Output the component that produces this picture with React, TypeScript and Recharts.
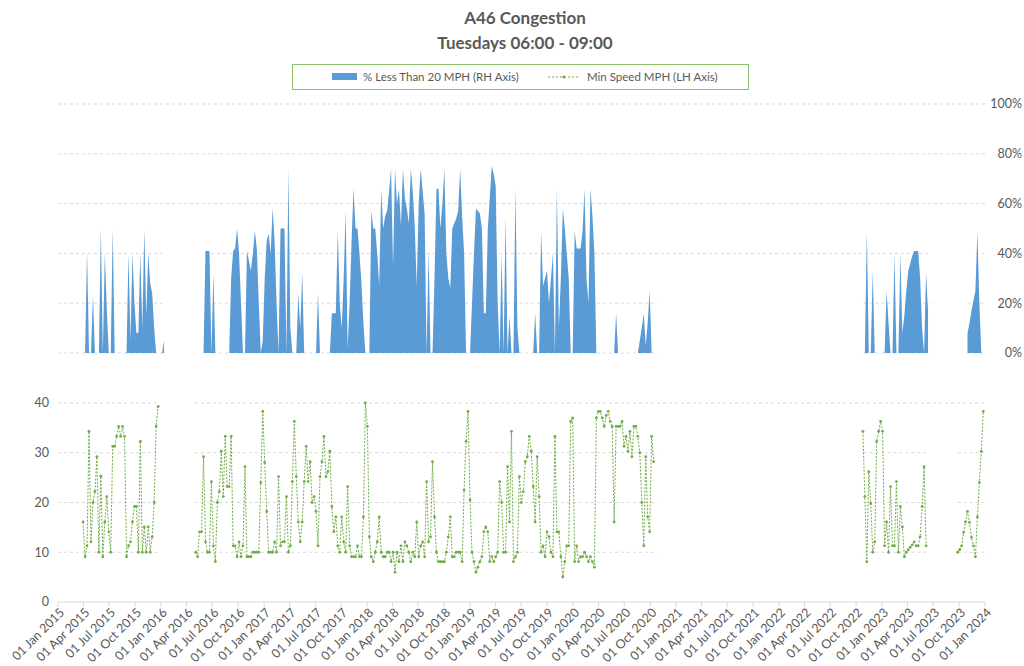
import React from 'react';
import { ComposedChart, Area, Line, XAxis, YAxis, ReferenceLine } from 'recharts';

// ---------- DATA ----------
// Weekly Tuesday observations. Each segment: first Tuesday + consecutive weekly values.
const pctSegments = [
  { start: '2015-04-07', values: [0, 41, 0, 0, 23, 0, 0, 0, 50, 0, 40, 18, 0, 0, 50, 0, 0, 0, 0, 0, 0, 0, 40, 5, 40, 20, 8, 8, 40, 10, 50, 15, 40, 28, 24, 10, 0, 0, 0, 0, 5] },
  { start: '2016-05-31', values: [
    0, 41, 41, 41, 0, 32, 0, 0, 0, 0,
    0, 0, 0, 0, 30, 41, 42, 50, 40, 20,
    0, 0, 41, 37, 33, 40, 49, 42, 20, 0,
    5, 30, 45, 48, 40, 58, 45, 20, 0, 50,
    50, 50, 0, 74, 10, 0, 0, 0, 24, 10,
    32, 0, 0, 0, 0, 0, 0, 0, 24, 0,
    0, 0, 0, 0, 0, 16, 16, 16, 49, 20,
    10, 30, 57, 2, 20, 45, 66, 50, 50, 40,
    28, 12, 0, 0, 0, 57, 50, 50, 40, 27,
    66, 50, 55, 57, 65, 74, 35, 74, 60, 66,
    51, 74, 62, 58, 52, 74, 65, 51, 27, 60,
    74, 65, 56, 0, 41, 0, 0, 30, 66, 66,
    50, 60, 74, 40, 30, 26, 50, 52, 54, 57,
    74, 55, 40, 0, 0, 0, 20, 40, 58, 57,
    56, 50, 16, 16, 50, 62, 75, 72, 67, 20,
    0, 40, 0, 55, 0, 15, 0, 0, 66, 10,
    0, 0, 0, 0, 0, 0, 0, 0, 16, 0,
    0, 49, 27, 30, 33, 20, 30, 40, 0, 66,
    10, 30, 58, 50, 40, 30, 0, 0, 49, 42,
    42, 42, 49, 66, 30, 20, 66, 55, 40, 0,
    0, 0, 0, 0, 0, 0, 0, 0, 0, 16,
    0, 0, 0, 0, 0, 0, 0, 0, 0, 0,
    0, 5, 10, 16, 3, 12, 25, 0, 0] },
  { start: '2022-11-01', values: [0, 49, 0, 0, 33, 0, 0, 0, 0, 0, 0, 25, 12, 0, 0, 40, 0, 0, 40, 8, 15, 25, 33, 36, 39, 41, 41, 41, 30, 10, 0, 32, 17] },
  { start: '2023-10-31', values: [8, 12, 17, 21, 25, 49, 20, 0] },
];

const speedSegments = [
  { start: '2015-03-31', values: [16.1, 9.1, 11.3, 34.3, 12.1, 20, 22.2, 29.2, 10, 25.3, 9.1, 16.1, 21.2, 14.1, 10, 31.3, 31.3, 33.3, 35.3, 33.3, 35.3, 33.3, 9.1, 11.3, 12.1, 16.1, 19.2, 19.2, 10, 32.3, 10, 15.1, 10, 15.1, 10, 13.1, 20, 35.3, 39.3] },
  { start: '2016-05-03', values: [
    10, 9.1, 14.1, 14.1, 29.2, 12.1, 10, 10, 24.2, 11.3,
    8.1, 20, 22.2, 30.3, 21.2, 33.3, 23.2, 23.2, 33.3, 11.3,
    11.3, 9.1, 12.1, 9.1, 11.3, 27.2, 9.1, 9.1, 9.1, 10,
    10, 10, 10, 24, 38.3, 28, 18.2, 10, 10, 10,
    12.1, 10, 25.2, 11.3, 12.1, 12.1, 21.2, 10, 11.3, 24.2,
    36.3, 25.2, 16.1, 12.1,
    16.1, 24.2, 31.3, 24.2, 28.2, 20, 21.2, 18.2, 11.3, 25.2,
    28.2, 33.3, 25.2, 26.2, 30.3, 19.2, 14.1, 17.1, 11.3, 10,
    17.1, 12.1, 10, 23.2, 11.3, 9.1, 9.1, 9.1, 11.3, 9.1,
    9.1, 17.1, 40, 35.3, 13.1, 9.1, 8.1, 10, 12.1, 17.1,
    10, 9.1, 9.1, 10, 10, 8.1, 10, 6, 10, 8.1,
    11.3, 8.1, 12.1, 11.3, 10, 8.1, 10, 9.1, 16.1, 9.1,
    11.3, 12.1, 9.1, 24.2, 12.1, 13.1, 28.2, 17.1, 10, 8.1,
    8.1, 8.1, 8.1, 10, 13.1, 17.1, 9.1, 9.1, 10, 10,
    10, 8.1, 22.5, 32.3, 38.3, 20.5, 10, 8.1, 6, 7,
    8.1, 9.1, 14.1, 15.1, 14.1, 8.1, 9.1, 8.1, 9.1, 10,
    24.2, 20, 10, 10, 27.2, 16.1, 34.3, 8.1, 9.1, 10,
    25.2, 20, 22.2, 28.2, 29.2, 33.3, 30.3, 23.2, 16.1, 29.2,
    21.2, 10, 11.3, 9.1, 14.1, 13.1, 10, 9.1, 33.3, 14.1,
    14.1, 9.1, 5, 8.1, 11.3, 11.3, 36.3, 37, 8.1, 11.3,
    8.1, 9.1, 9.1, 10, 9.1, 8.1, 9.1, 8.1, 7, 37,
    38.3, 38.3, 37, 35.3, 37.5, 38.3, 36.3, 35.3, 16.1, 35.3,
    35.3, 35.3, 36.3, 31.3, 33.3, 30.3, 34.3, 29.2, 35.3, 35.3,
    33.3, 30, 20, 11.3, 29.2, 17.1, 14.1, 33.3, 28.2] },
  { start: '2022-10-25', values: [34.3, 21.2, 8.1, 26.2, 19.8, 10, 12.1, 32.3, 34.3, 36.3, 34.3, 11.3, 16.1, 10, 23.2, 11.3, 11.3, 24.2, 10, 19.2, 15.1, 9.1, 10, 10.5, 11, 11.5, 12.1, 11.3, 11.3, 13.1, 19.2, 27.2, 11.3] },
  { start: '2023-09-26', values: [10, 10.5, 11.3, 14, 16.1, 18.2, 16, 13, 11.3, 9.1, 17.1, 24, 30.3, 38.3] },
];

const firstTuesday = '2015-01-06';
const weekCount = 470;
const axisStart = '2015-01-01';
const axisEnd = '2024-01-01';
const monthNames = ['Jan', 'Feb', 'Mar', 'Apr', 'May', 'Jun', 'Jul', 'Aug', 'Sep', 'Oct', 'Nov', 'Dec'];
const tickYears = [2015, 2016, 2017, 2018, 2019, 2020, 2021, 2022, 2023];
const tickMonths = [0, 3, 6, 9];
const leftTicks = [0, 10, 20, 30, 40];
const rightTicks = [0, 20, 40, 60, 80, 100];

// visible stretches of the horizontal gridlines
const fullSpan = [[axisStart, axisEnd]];
const topGrid: { v: number; spans: string[][] }[] = [
  { v: 100, spans: fullSpan },
  { v: 80, spans: fullSpan },
  { v: 60, spans: fullSpan },
  { v: 40, spans: [[axisStart, '2016-01-05'], ['2016-06-05', '2023-06-22'], ['2023-11-29', axisEnd]] },
  { v: 20, spans: [[axisStart, '2016-01-08'], ['2016-07-04', '2020-10-27'], ['2022-10-27', '2023-06-22'], ['2023-11-01', axisEnd]] },
  { v: 0, spans: [[axisStart, '2016-01-08'], ['2016-07-04', '2020-10-27'], ['2022-10-27', '2023-06-22'], ['2023-11-01', axisEnd]] },
];
const lowSpans = [[axisStart, '2015-12-29'], ['2016-05-01', '2020-10-27'], ['2022-10-27', '2023-06-11'], ['2023-09-26', axisEnd]];
const bottomGrid: { v: number; spans: string[][] }[] = [
  { v: 40, spans: [[axisStart, '2015-12-29'], ['2016-05-01', axisEnd]] },
  { v: 30, spans: lowSpans },
  { v: 20, spans: lowSpans },
  { v: 10, spans: lowSpans },
];

// ---------- BUILD ----------
const DAY = 86400000;
const ts = (iso: string) => Date.parse(iso + 'T00:00:00Z');
const base = ts(firstTuesday);

const rows: { t: number; pct: number | null; speed: number | null }[] = [];
for (let i = 0; i < weekCount; i++) rows.push({ t: base + i * 7 * DAY, pct: null, speed: null });
const place = (segs: { start: string; values: number[] }[], key: 'pct' | 'speed') => {
  segs.forEach((s) => {
    const i0 = Math.round((ts(s.start) - base) / (7 * DAY));
    s.values.forEach((v, k) => {
      if (rows[i0 + k]) rows[i0 + k][key] = v;
    });
  });
};
place(pctSegments, 'pct');
place(speedSegments, 'speed');

const xTicks: number[] = [];
tickYears.forEach((y) => tickMonths.forEach((m) => xTicks.push(Date.UTC(y, m, 1))));
xTicks.push(ts(axisEnd));

const fmtDate = (v: number) => {
  const d = new Date(v);
  return `${String(d.getUTCDate()).padStart(2, '0')} ${monthNames[d.getUTCMonth()]} ${d.getUTCFullYear()}`;
};

const FONT = 'Lato, "Open Sans", sans-serif';
const GREY = '#595959';
const GRID = '#d9d9d9';
const W = 1024;
const H = 666;
const MARGIN = { top: 104, right: 0, bottom: 4, left: 18 };

const XTick = (props: any) => {
  const { x, y, payload } = props;
  return (
    <text x={x} y={y} transform={`rotate(-45 ${x} ${y})`} textAnchor="end" dx={2} dy={8} fontSize={12.5} fill={GREY} fontFamily={FONT}>
      {fmtDate(payload.value)}
    </text>
  );
};

const RTick = (props: any) => {
  const { y, payload } = props;
  return (
    <text x={1022} y={y} textAnchor="end" dy="0.35em" fontSize={12.5} fill={GREY} fontFamily={FONT}>
      {payload.value}%
    </text>
  );
};

const axes = (visible: boolean) => [
  <XAxis
    key="x"
    dataKey="t"
    type="number"
    domain={[ts(axisStart), ts(axisEnd)]}
    ticks={xTicks}
    interval={0}
    allowDataOverflow
    height={60}
    axisLine={visible ? { stroke: GRID } : false}
    tickLine={visible ? { stroke: GRID } : false}
    tickSize={5}
    tick={visible ? <XTick /> : false}
  />,
  <YAxis
    key="l"
    yAxisId="l"
    orientation="left"
    width={40}
    domain={[0, 100.1]}
    ticks={leftTicks}
    allowDataOverflow
    axisLine={false}
    tickLine={false}
    tickMargin={3}
    tick={visible ? { fill: GREY, fontSize: 12.5, fontFamily: FONT } : false}
  />,
  <YAxis
    key="r"
    yAxisId="r"
    orientation="right"
    width={39}
    domain={[-100, 100]}
    ticks={rightTicks}
    allowDataOverflow
    axisLine={false}
    tickLine={false}
    tick={visible ? <RTick /> : false}
  />,
];

export default function App() {
  const gridLines: React.ReactNode[] = [];
  topGrid.forEach((g) =>
    g.spans.forEach((s, k) =>
      gridLines.push(
        <ReferenceLine key={`t${g.v}-${k}`} yAxisId="r" segment={[{ x: ts(s[0]), y: g.v }, { x: ts(s[1]), y: g.v }]} stroke={GRID} strokeDasharray="3 3" strokeWidth={1} />
      )
    )
  );
  bottomGrid.forEach((g) =>
    g.spans.forEach((s, k) =>
      gridLines.push(
        <ReferenceLine key={`b${g.v}-${k}`} yAxisId="l" segment={[{ x: ts(s[0]), y: g.v }, { x: ts(s[1]), y: g.v }]} stroke={GRID} strokeDasharray="3 3" strokeWidth={1} />
      )
    )
  );

  return (
    <div style={{ position: 'absolute', left: 0, top: 0, width: W, height: H, background: '#fff', fontFamily: FONT }}>
      {/* background layer: gridlines only */}
      <div style={{ position: 'absolute', left: 0, top: 0 }}>
        <ComposedChart width={W} height={H} data={rows} margin={MARGIN}>
          {axes(false)}
          {gridLines}
        </ComposedChart>
      </div>
      {/* foreground layer: series and axes */}
      <div style={{ position: 'absolute', left: 0, top: 0 }}>
        <ComposedChart width={W} height={H} data={rows} margin={MARGIN}>
          {axes(true)}
          <Area
            yAxisId="r"
            dataKey="pct"
            type="linear"
            baseValue={0}
            fill="#5b9bd5"
            fillOpacity={1}
            stroke="none"
            isAnimationActive={false}
          />
          <Line
            yAxisId="l"
            dataKey="speed"
            type="linear"
            stroke="#70ad47"
            strokeWidth={1}
            strokeDasharray="2 1.5"
            dot={{ r: 1.4, fill: '#70ad47', stroke: '#70ad47', strokeWidth: 0 }}
            activeDot={false}
            isAnimationActive={false}
          />
        </ComposedChart>
      </div>
      <svg width={W} height={100} style={{ position: 'absolute', left: 0, top: 0 }}>
        <text x={525} y={24} textAnchor="middle" fontSize={17} fontWeight="bold" fill={GREY} fontFamily={FONT}>A46 Congestion</text>
        <text x={525} y={49} textAnchor="middle" fontSize={17} fontWeight="bold" fill={GREY} fontFamily={FONT}>Tuesdays 06:00 - 09:00</text>
        <rect x={292.5} y={64.5} width={456} height={25} fill="none" stroke="#8cbf6a" strokeWidth={1} />
        <rect x={332} y={73} width={25} height={7} fill="#5b9bd5" />
        <text x={363} y={81} fontSize={11.5} fill={GREY} fontFamily={FONT}>% Less Than 20 MPH (RH Axis)</text>
        <line x1={548} y1={77} x2={580} y2={77} stroke="#70ad47" strokeWidth={1} strokeDasharray="2 2" />
        <circle cx={564} cy={77} r={1.6} fill="#70ad47" />
        <text x={587} y={81} fontSize={11.5} fill={GREY} fontFamily={FONT}>Min Speed MPH (LH Axis)</text>
      </svg>
    </div>
  );
}
